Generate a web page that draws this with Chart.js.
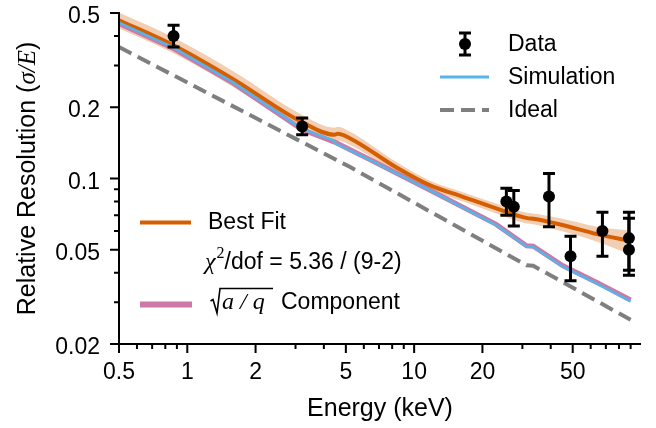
<!DOCTYPE html>
<html>
<head>
<meta charset="utf-8">
<script src="https://cdn.jsdelivr.net/npm/chart.js@4.4.1/dist/chart.umd.min.js"></script>
<style>
  html, body { margin: 0; padding: 0; background: #fff; }
  #wrap { width: 656px; height: 428px; }
</style>
</head>
<body>
<div id="wrap"><canvas id="resChart" width="656" height="428"></canvas></div>
<script>
// Measured resolution points with asymmetric error bars
const dataEnergy = [0.87, 3.21, 25.5, 27.5, 39.3, 48.9, 67.6, 88.5, 88.5];
const dataRes    = [0.400, 0.166, 0.080, 0.076, 0.084, 0.047, 0.060, 0.056, 0.050];
const dataLow    = [0.359, 0.153, 0.070, 0.063, 0.0625, 0.037, 0.047, 0.041, 0.039];
const dataHigh   = [0.444, 0.180, 0.091, 0.089, 0.105, 0.057, 0.072, 0.072, 0.068];

// Best fit curve and its uncertainty band
const fitEnergy = [0.5, 0.87, 1.6, 3.2, 4.45, 4.6, 5.2, 8.4, 11.7, 16.4, 23, 31.5, 33.5, 45, 64, 90];
const fitRes    = [0.466, 0.365, 0.262, 0.173, 0.153, 0.1545, 0.148, 0.111, 0.0937, 0.0837, 0.0748, 0.0680, 0.0676, 0.0636, 0.0582, 0.0545];
const fitHigh   = [0.502, 0.394, 0.283, 0.186, 0.164, 0.1655, 0.158, 0.117, 0.0980, 0.0875, 0.0785, 0.0716, 0.0712, 0.0676, 0.0626, 0.0602];
const fitLow    = [0.430, 0.338, 0.243, 0.161, 0.143, 0.1445, 0.139, 0.105, 0.0895, 0.0800, 0.0712, 0.0645, 0.0641, 0.0598, 0.0541, 0.0478];

// Simulation and the sqrt(a/q) component
const simEnergy = [0.5, 0.87, 1.6, 3.2, 4.4, 4.5, 6.4, 11.7, 23, 31.3, 33.5, 45.3, 63.6, 90];
const simRes    = [0.455, 0.357, 0.254, 0.162, 0.145, 0.1405, 0.1195, 0.0893, 0.0636, 0.0516, 0.0514, 0.0424, 0.0361, 0.0303];
const compRes   = [0.452, 0.354, 0.252, 0.161, 0.143, 0.142, 0.120, 0.0895, 0.0640, 0.0520, 0.0518, 0.0428, 0.0365, 0.0307];

// Ideal resolution
const idealEnergy = [0.5, 5.2, 31.3, 33.5, 90];
const idealRes    = [0.359, 0.112, 0.0430, 0.0428, 0.0253];

// Axis ticks
const xMajor = [0.5, 1, 2, 5, 10, 20, 50];
const xMinor = [0.6, 0.7, 0.8, 0.9, 3, 4, 6, 7, 8, 9, 30, 40, 60, 70, 80, 90];
const yMajor = [0.02, 0.05, 0.1, 0.2, 0.5];
const yMinor = [0.03, 0.04, 0.06, 0.07, 0.08, 0.09, 0.3, 0.4];

const ORANGE = '#d55e00';
const BLUE = '#56b4e9';
const PINK = '#cc79a7';
const GREY = '#7f7f7f';
const SANS = '"Liberation Sans", Arial, Helvetica, sans-serif';
const SERIF = '"Liberation Serif", "Times New Roman", serif';

const pts = (xs, ys) => xs.map((x, i) => ({ x: x, y: ys[i] }));

// draws pieces of text one after another, each with its own font
function drawRuns(ctx, runs, x, y) {
    let cx = x;
    runs.forEach(r => {
        ctx.font = r.font;
        ctx.fillText(r.text, cx, y + (r.dy || 0));
        cx += ctx.measureText(r.text).width + (r.gap || 0);
    });
    return cx;
}

const decorPlugin = {
    id: 'decor',
    afterDatasetsDraw(chart) {
        const { ctx, scales: { x, y } } = chart;
        // error bars
        ctx.save();
        ctx.strokeStyle = '#000';
        ctx.lineWidth = 3;
        dataEnergy.forEach((e, i) => {
            const px = x.getPixelForValue(e);
            const lo = y.getPixelForValue(dataLow[i]);
            const hi = y.getPixelForValue(dataHigh[i]);
            ctx.beginPath();
            ctx.moveTo(px, lo); ctx.lineTo(px, hi);
            ctx.moveTo(px - 6, lo); ctx.lineTo(px + 6, lo);
            ctx.moveTo(px - 6, hi); ctx.lineTo(px + 6, hi);
            ctx.stroke();
        });
        ctx.restore();
    },
    afterDraw(chart) {
        const { ctx, chartArea: a, scales: { x, y } } = chart;
        ctx.save();
        ctx.strokeStyle = '#000';
        ctx.fillStyle = '#000';
        ctx.lineWidth = 2;

        // spines
        ctx.beginPath();
        ctx.moveTo(a.left, a.top - 1); ctx.lineTo(a.left, a.bottom + 1);
        ctx.moveTo(a.left - 1, a.bottom); ctx.lineTo(a.right, a.bottom);
        ctx.stroke();

        // ticks, pointing outwards
        ctx.beginPath();
        xMajor.forEach(v => { const p = x.getPixelForValue(v); ctx.moveTo(p, a.bottom); ctx.lineTo(p, a.bottom + 9); });
        xMinor.forEach(v => { const p = x.getPixelForValue(v); ctx.moveTo(p, a.bottom); ctx.lineTo(p, a.bottom + 5); });
        yMajor.forEach(v => { const p = y.getPixelForValue(v); ctx.moveTo(a.left, p); ctx.lineTo(a.left - 9, p); });
        yMinor.forEach(v => { const p = y.getPixelForValue(v); ctx.moveTo(a.left, p); ctx.lineTo(a.left - 5, p); });
        ctx.stroke();

        // tick labels
        ctx.font = '23px ' + SANS;
        ctx.textAlign = 'center';
        ctx.textBaseline = 'alphabetic';
        xMajor.forEach(v => ctx.fillText(String(v), x.getPixelForValue(v), a.bottom + 35));
        ctx.textAlign = 'right';
        yMajor.forEach(v => ctx.fillText(String(v), a.left - 19, y.getPixelForValue(v) + 10));

        // axis titles
        ctx.textAlign = 'center';
        ctx.font = '25px ' + SANS;
        ctx.fillText('Energy (keV)', (a.left + a.right) / 2, 416);

        ctx.save();
        ctx.translate(35, (a.top + a.bottom) / 2);
        ctx.rotate(-Math.PI / 2);
        ctx.textAlign = 'left';
        const yTitle = [
            { text: 'Relative Resolution (', font: '25px ' + SANS },
            { text: 'σ/E', font: 'italic 25px ' + SERIF },
            { text: ')', font: '25px ' + SANS }
        ];
        let w = 0;
        yTitle.forEach(r => { ctx.font = r.font; w += ctx.measureText(r.text).width; });
        drawRuns(ctx, yTitle, -w / 2, 0);
        ctx.restore();

        // legend, upper right
        ctx.textAlign = 'left';
        ctx.textBaseline = 'middle';
        ctx.font = '23px ' + SANS;
        ctx.lineWidth = 3;
        ctx.beginPath();
        ctx.moveTo(465, 33); ctx.lineTo(465, 55);
        ctx.moveTo(459, 33); ctx.lineTo(471, 33);
        ctx.moveTo(459, 55); ctx.lineTo(471, 55);
        ctx.stroke();
        ctx.beginPath(); ctx.arc(465, 44, 6, 0, Math.PI * 2); ctx.fill();
        ctx.fillText('Data', 508, 45);

        ctx.strokeStyle = BLUE;
        ctx.beginPath(); ctx.moveTo(440, 77); ctx.lineTo(489, 77); ctx.stroke();
        ctx.fillText('Simulation', 508, 78);

        ctx.strokeStyle = GREY;
        ctx.lineWidth = 4;
        ctx.setLineDash([14, 7]);
        ctx.beginPath(); ctx.moveTo(440, 110); ctx.lineTo(489, 110); ctx.stroke();
        ctx.setLineDash([]);
        ctx.fillText('Ideal', 508, 111);

        // legend, lower left
        ctx.strokeStyle = ORANGE;
        ctx.lineWidth = 4;
        ctx.beginPath(); ctx.moveTo(140, 222.5); ctx.lineTo(191, 222.5); ctx.stroke();
        ctx.fillText('Best Fit', 208, 223);

        drawRuns(ctx, [
            { text: 'χ', font: 'italic 24px ' + SERIF, gap: 1 },
            { text: '2', font: '16px ' + SERIF, dy: -9 },
            { text: '/dof = 5.36 / (9-2)', font: '23px ' + SANS }
        ], 205, 263);

        ctx.strokeStyle = PINK;
        ctx.lineWidth = 6;
        ctx.beginPath(); ctx.moveTo(140, 304.5); ctx.lineTo(192, 304.5); ctx.stroke();

        // radical sign with overline
        ctx.strokeStyle = '#000';
        ctx.lineWidth = 1.6;
        ctx.beginPath();
        ctx.moveTo(210.5, 301); ctx.lineTo(213, 299.5);
        ctx.lineTo(217, 313); ctx.lineTo(220, 288.5); ctx.lineTo(273, 288.5);
        ctx.stroke();
        ctx.textBaseline = 'alphabetic';
        drawRuns(ctx, [
            { text: 'a', font: 'italic 24px ' + SERIF, gap: 6 },
            { text: '/', font: 'italic 24px ' + SERIF, gap: 6 },
            { text: 'q', font: 'italic 24px ' + SERIF }
        ], 222, 309);
        ctx.textBaseline = 'middle';
        ctx.font = '23px ' + SANS;
        ctx.fillText('Component', 281, 303);

        ctx.restore();
    }
};

const ctx = document.getElementById('resChart').getContext('2d');

new Chart(ctx, {
    type: 'line',
    data: {
        datasets: [
            {
                label: 'Data',
                data: pts(dataEnergy, dataRes),
                showLine: false,
                pointRadius: 6,
                pointBackgroundColor: '#000',
                pointBorderWidth: 0,
                order: 0
            },
            {
                label: 'Simulation',
                data: pts(simEnergy, simRes),
                borderColor: BLUE,
                borderWidth: 2.5,
                pointRadius: 0,
                order: 1
            },
            {
                label: 'Best Fit',
                data: pts(fitEnergy, fitRes),
                borderColor: ORANGE,
                borderWidth: 4,
                pointRadius: 0,
                cubicInterpolationMode: 'monotone',
                order: 2
            },
            {
                label: 'sqrt(a/q) Component',
                data: pts(simEnergy, compRes),
                borderColor: PINK,
                borderWidth: 5,
                pointRadius: 0,
                order: 3
            },
            {
                label: 'Ideal',
                data: pts(idealEnergy, idealRes),
                borderColor: GREY,
                borderWidth: 4,
                borderDash: [14, 7],
                pointRadius: 0,
                order: 4
            },
            {
                label: 'Fit band',
                data: pts(fitEnergy, fitHigh),
                borderWidth: 0,
                pointRadius: 0,
                cubicInterpolationMode: 'monotone',
                backgroundColor: 'rgba(213, 94, 0, 0.3)',
                fill: '+1',
                order: 5
            },
            {
                label: 'Fit band low',
                data: pts(fitEnergy, fitLow),
                borderWidth: 0,
                pointRadius: 0,
                cubicInterpolationMode: 'monotone',
                fill: false,
                order: 6
            }
        ]
    },
    options: {
        responsive: false,
        animation: false,
        devicePixelRatio: 1,
        layout: { padding: { top: 13, right: 15, left: 0, bottom: 0 } },
        plugins: { legend: { display: false }, tooltip: { enabled: false } },
        scales: {
            x: {
                type: 'logarithmic',
                min: 0.5,
                max: 100,
                grid: { display: false },
                border: { display: false },
                ticks: { display: false },
                afterFit: s => { s.height = 84; }
            },
            y: {
                type: 'logarithmic',
                min: 0.02,
                max: 0.5,
                grid: { display: false },
                border: { display: false },
                ticks: { display: false },
                afterFit: s => { s.width = 119; }
            }
        }
    },
    plugins: [decorPlugin]
});
</script>
</body>
</html>
